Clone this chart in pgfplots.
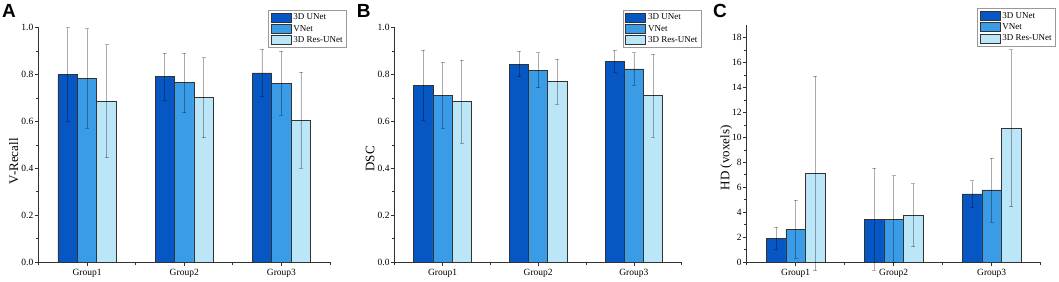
\documentclass[border=0pt]{standalone}
\usepackage{pgfplots}
\usepackage{pgfplotstable}
\pgfplotsset{compat=1.18}
\usepackage{fontspec}
\setmainfont{Liberation Serif}
\newfontfamily\labfont{Liberation Sans}
\definecolor{cA}{RGB}{6,86,196}
\definecolor{cB}{RGB}{58,155,230}
\definecolor{cC}{RGB}{186,230,247}

\pgfplotstableread{
x a ea b eb c ec
1 0.800 0.200 0.784 0.212 0.687 0.241
2 0.792 0.100 0.765 0.127 0.701 0.171
3 0.807 0.101 0.763 0.137 0.605 0.205
}\tabA
\pgfplotstableread{
x a ea b eb c ec
1 0.755 0.150 0.711 0.141 0.684 0.177
2 0.845 0.054 0.819 0.075 0.770 0.097
3 0.857 0.048 0.824 0.070 0.710 0.176
}\tabB
\pgfplotstableread{
x a ea b eb c ec
1 1.90 0.87 2.63 2.32 7.10 7.80
2 3.43 4.10 3.45 3.48 3.75 2.53
3 5.46 1.08 5.78 2.57 10.73 6.30
}\tabC

\pgfplotsset{
 myax/.style={
  scale only axis, axis lines=left,
  axis line style={-, line width=0.8pt, color=black!80},
  ybar=0pt, bar width=0.2,
  xmin=0.5, xmax=3.5, ymin=0, enlargelimits=false, clip=false,
  xtick={1,2,3}, xticklabels={Group1,Group2,Group3},
  minor xtick={0.5,1.5,2.5,3.5},
  tick align=outside, major tick length=4pt, minor tick length=2.5pt,
  every tick/.style={line width=0.7pt, black!80},
  x tick label style={font=\fontsize{9.5}{10}\selectfont},
  y tick label style={font=\fontsize{9.5}{10}\selectfont, inner xsep=1pt},
  /pgf/number format/assume math mode=true,
  ylabel style={font=\fontsize{13}{14}\selectfont, anchor=center},
  legend style={font=\fontsize{9}{10}\selectfont, draw=black!40, line width=0.6pt,
    inner xsep=2pt, inner ysep=1.5pt, row sep=0pt, cells={anchor=west}},
  legend cell align=left,
 },
 mybar/.style={draw=black!80, line width=0.8pt, fill=#1,
  legend image code/.code={\draw[##1, line width=0.8pt] (0pt,-4.5pt) rectangle (20pt,4.5pt);},
  error bars/y dir=both, error bars/y explicit,
  error bars/error bar style={black, opacity=0.3, line width=0.7pt},
  error bars/error mark options={rotate=90, mark size=2pt, black, opacity=0.3, line width=0.7pt}},
}

\begin{document}
\begin{tikzpicture}
\path[use as bounding box] (0,0) rectangle (1059pt,281pt);

% Panel A
\begin{axis}[myax, at={(38.5pt,19pt)}, anchor=south west, width=291.5pt, height=234.3pt,
  ymax=1, ytick={0,0.2,0.4,0.6,0.8,1.0}, minor ytick={0.1,0.3,0.5,0.7,0.9},
  yticklabel style={/pgf/number format/.cd, fixed, fixed zerofill, precision=1},
  ylabel={V-Recall}, ylabel style={at={(axis description cs:-0.085,0.43)}},
  legend style={at={(1,1)}, anchor=north east, xshift=17pt, yshift=17.7pt}]
\addplot[mybar=cA] table[x=x, y=a, y error=ea] {\tabA};
\addplot[mybar=cB] table[x=x, y=b, y error=eb] {\tabA};
\addplot[mybar=cC] table[x=x, y=c, y error=ec] {\tabA};
\legend{3D UNet, VNet, 3D Res-UNet}
\end{axis}

% Panel B
\begin{axis}[myax, at={(394.7pt,19pt)}, anchor=south west, width=287pt, height=234.3pt,
  ymax=1, ytick={0,0.2,0.4,0.6,0.8,1.0}, minor ytick={0.1,0.3,0.5,0.7,0.9},
  yticklabel style={/pgf/number format/.cd, fixed, fixed zerofill, precision=1},
  ylabel={DSC}, ylabel style={at={(axis description cs:-0.086,0.44)}},
  legend style={at={(1,1)}, anchor=north east, xshift=20pt, yshift=17.7pt}]
\addplot[mybar=cA] table[x=x, y=a, y error=ea] {\tabB};
\addplot[mybar=cB] table[x=x, y=b, y error=eb] {\tabB};
\addplot[mybar=cC] table[x=x, y=c, y error=ec] {\tabB};
\legend{3D UNet, VNet, 3D Res-UNet}
\end{axis}

% Panel C
\begin{axis}[myax, at={(746.7pt,19pt)}, anchor=south west, width=294pt, height=236.7pt,
  ymax=19, ytick={0,2,...,18}, minor ytick={1,3,...,17},
  ylabel={HD (voxels)}, ylabel style={at={(axis description cs:-0.07,0.44)}},
  legend style={at={(1,1)}, anchor=north east, xshift=15.3pt, yshift=17pt}]
\addplot[mybar=cA] table[x=x, y=a, y error=ea] {\tabC};
\addplot[mybar=cB] table[x=x, y=b, y error=eb] {\tabC};
\addplot[mybar=cC] table[x=x, y=c, y error=ec] {\tabC};
\legend{3D UNet, VNet, 3D Res-UNet}
\end{axis}

\node[anchor=base west, font=\labfont\bfseries\fontsize{19}{19}\selectfont, inner sep=0pt] at (2pt,263pt) {A};
\node[anchor=base west, font=\labfont\bfseries\fontsize{19}{19}\selectfont, inner sep=0pt] at (356.7pt,263pt) {B};
\node[anchor=base west, font=\labfont\bfseries\fontsize{19}{19}\selectfont, inner sep=0pt] at (713pt,263pt) {C};
\end{tikzpicture}
\end{document}
